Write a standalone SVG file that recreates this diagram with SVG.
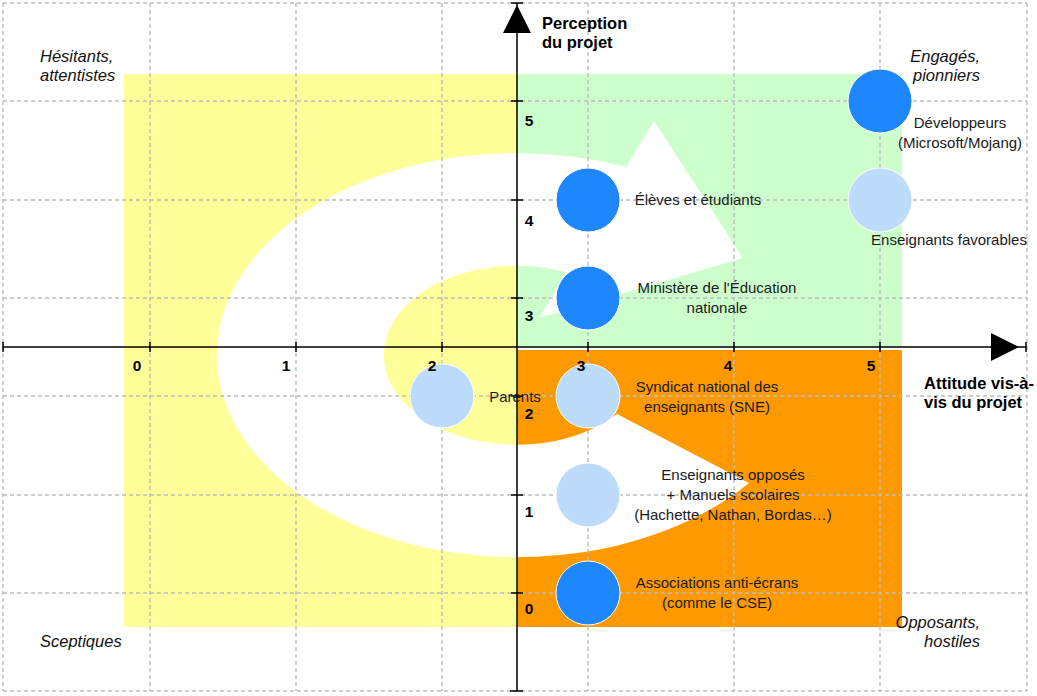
<svg xmlns="http://www.w3.org/2000/svg" width="1037" height="696" viewBox="0 0 1037 696">
<style>
.grid line{stroke:#bdbdbd;stroke-width:1.4;stroke-dasharray:4 3;fill:none}
.ax{stroke:#000;stroke-width:1.5;fill:none}
.num{font-family:"Liberation Sans",Arial,sans-serif;font-size:15.5px;font-weight:bold;fill:#000;text-anchor:middle}
.ttl{font-family:"Liberation Sans",Arial,sans-serif;font-size:16.5px;font-weight:bold;fill:#000}
.it{font-family:"Liberation Sans",Arial,sans-serif;font-size:16.5px;font-style:italic;fill:#111}
.lbl{font-family:"Liberation Sans",Arial,sans-serif;font-size:15px;fill:#1a1a1a;text-anchor:middle}
.dk{fill:#1f87fe;stroke:#fff;stroke-width:1}
.lt{fill:#bddbfb;stroke:#fff;stroke-width:1}
</style>
<rect x="0" y="0" width="1037" height="696" fill="#fff"/>
<g id="zones">
<rect x="124" y="74" width="393" height="553" fill="#ffff99"/>
<rect x="517" y="74" width="385" height="273" fill="#ccffcc"/>
<rect x="517" y="350" width="385" height="277" fill="#ff9900"/>
</g>
<g id="spiral-arrow">
<path d="M 749 483 A 300 202 0 1 1 626 167 L 654 121 L 743 258 L 539 318 L 566 272 A 133 89.5 0 1 0 617 414 Z" fill="#fff"/>
</g>
<g class="grid" id="grid">
<line x1="3" y1="3" x2="3" y2="691"/>
<line x1="150" y1="3" x2="150" y2="691"/>
<line x1="296" y1="3" x2="296" y2="691"/>
<line x1="442" y1="3" x2="442" y2="691"/>
<line x1="588" y1="3" x2="588" y2="691"/>
<line x1="734" y1="3" x2="734" y2="691"/>
<line x1="880" y1="3" x2="880" y2="691"/>
<line x1="1027" y1="3" x2="1027" y2="691"/>
<line x1="3" y1="3" x2="1027" y2="3"/>
<line x1="3" y1="101" x2="1027" y2="101"/>
<line x1="3" y1="200" x2="1027" y2="200"/>
<line x1="3" y1="298" x2="1027" y2="298"/>
<line x1="3" y1="396" x2="1027" y2="396"/>
<line x1="3" y1="495" x2="1027" y2="495"/>
<line x1="3" y1="593" x2="1027" y2="593"/>
<line x1="3" y1="691" x2="1027" y2="691"/>
</g>
<g id="connectors">
<path class="ax" d="M 3 347 H 1026 M 517 3 V 691"/>
<path class="ax" d="M 3 342 V 352 M 150 342 V 352 M 296 342 V 352 M 442 342 V 352 M 588 342 V 352 M 734 342 V 352 M 880 342 V 352 M 1026 342 V 352"/>
<path class="ax" d="M 511 3 H 523 M 511 101 H 523 M 511 200 H 523 M 511 298 H 523 M 511 396 H 523 M 511 495 H 523 M 511 593 H 523 M 510 691 H 523"/>
<polygon points="517,5 531,33 503,33" fill="#000"/>
<polygon points="1019,347 991,333 991,361" fill="#000"/>
</g>
<g id="node-developpeurs">
<circle class="dk" cx="880" cy="101" r="32"/>
<text class="lbl" x="960" y="128">Développeurs</text>
<text class="lbl" x="960" y="148">(Microsoft/Mojang)</text>
</g>
<g id="node-enseignants-favorables">
<circle class="lt" cx="880" cy="200" r="32"/>
<text class="lbl" x="949" y="245">Enseignants favorables</text>
</g>
<g id="node-eleves">
<circle class="dk" cx="588" cy="200" r="32"/>
<text class="lbl" x="698" y="205">Élèves et étudiants</text>
</g>
<g id="node-ministere">
<circle class="dk" cx="588" cy="298" r="32"/>
<text class="lbl" x="717" y="293">Ministère de l'Éducation</text>
<text class="lbl" x="717" y="313">nationale</text>
</g>
<g id="node-parents">
<circle class="lt" cx="442" cy="396" r="32"/>
<text class="lbl" x="515" y="402">Parents</text>
</g>
<g id="node-sne">
<circle class="lt" cx="588" cy="396" r="32"/>
<text class="lbl" x="707" y="392">Syndicat national des</text>
<text class="lbl" x="707" y="412">enseignants (SNE)</text>
</g>
<g id="node-enseignants-opposes">
<circle class="lt" cx="588" cy="495" r="32"/>
<text class="lbl" x="733" y="480">Enseignants opposés</text>
<text class="lbl" x="733" y="500">+ Manuels scolaires</text>
<text class="lbl" x="733" y="520">(Hachette, Nathan, Bordas…)</text>
</g>
<g id="node-associations">
<circle class="dk" cx="588" cy="593" r="32"/>
<text class="lbl" x="717" y="588">Associations anti-écrans</text>
<text class="lbl" x="717" y="608">(comme le CSE)</text>
</g>
<g id="axis-labels">
<text class="num" x="137" y="371">0</text>
<text class="num" x="286" y="371">1</text>
<text class="num" x="432" y="371">2</text>
<text class="num" x="581" y="371">3</text>
<text class="num" x="728" y="371">4</text>
<text class="num" x="871" y="371">5</text>
<text class="num" x="529" y="126">5</text>
<text class="num" x="529" y="226">4</text>
<text class="num" x="529" y="321">3</text>
<text class="num" x="529" y="419">2</text>
<text class="num" x="529" y="517">1</text>
<text class="num" x="529" y="614">0</text>
<text class="ttl" x="542" y="29">Perception</text>
<text class="ttl" x="542" y="48">du projet</text>
<text class="ttl" x="924" y="389">Attitude vis-à-</text>
<text class="ttl" x="924" y="408">vis du projet</text>
</g>
<g id="quadrant-labels">
<text class="it" x="40" y="62">Hésitants,</text>
<text class="it" x="40" y="81">attentistes</text>
<text class="it" x="980" y="62" text-anchor="end">Engagés,</text>
<text class="it" x="980" y="81" text-anchor="end">pionniers</text>
<text class="it" x="40" y="647">Sceptiques</text>
<text class="it" x="980" y="628" text-anchor="end">Opposants,</text>
<text class="it" x="980" y="647" text-anchor="end">hostiles</text>
</g>
</svg>
